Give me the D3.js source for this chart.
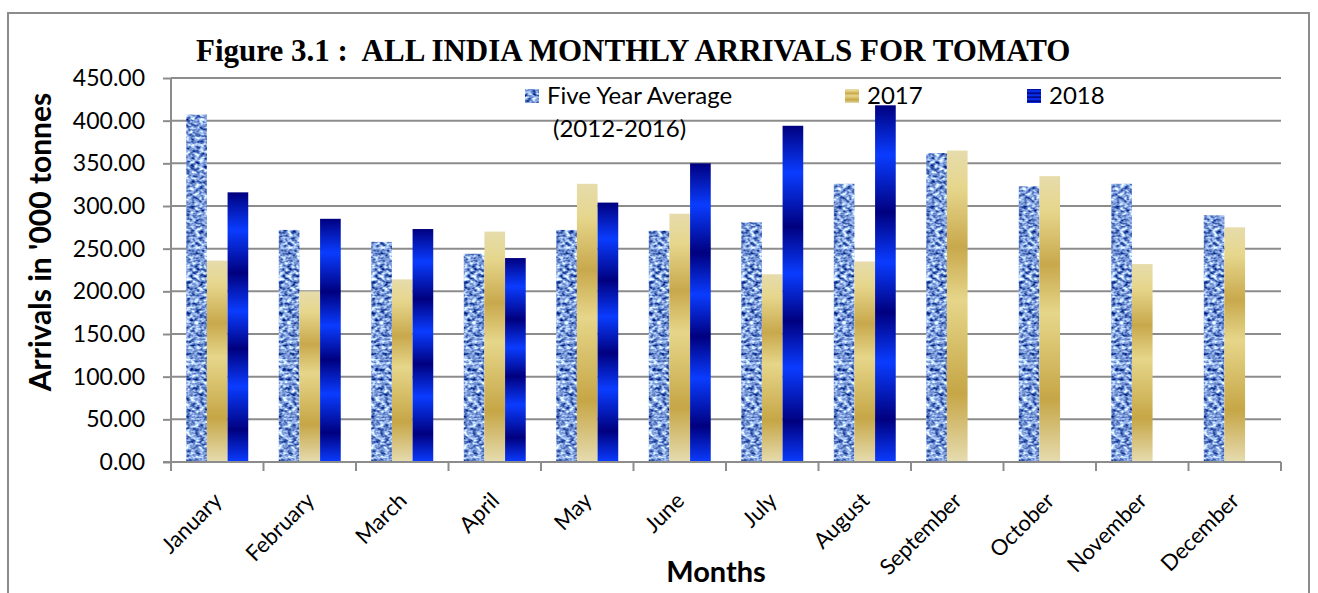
<!DOCTYPE html>
<html>
<head>
<meta charset="utf-8">
<script src="https://cdn.jsdelivr.net/npm/d3@7"></script>
<style>
  body { margin: 0; background: #fff; }
  text { font-family: Lato, "Noto Sans", sans-serif; fill: #000; }
</style>
</head>
<body>
<div id="chart"></div>
<script>
let graph_width = 1318, graph_height = 593;
let margin = {top: 78, right: 37, bottom: 131, left: 171};

// values ('000 tonnes)
let months = ["January", "February", "March", "April", "May", "June",
              "July", "August", "September", "October", "November", "December"];
let five_year_avg = [407, 272, 258, 244, 272, 271, 281, 326, 362, 323, 326, 289];
let arrivals_2017 = [236, 200, 214, 270, 326, 291, 220, 235, 365, 335, 232, 275];
let arrivals_2018 = [316, 285, 273, 239, 304, 350, 394, 418, null, null, null, null];
let y_ticks = [0, 50, 100, 150, 200, 250, 300, 350, 400, 450];
let series_names = ["five", "y2017", "y2018"];

let plot_w = graph_width - margin.left - margin.right;
let plot_h = graph_height - margin.top - margin.bottom;

let svg = d3.select("#chart")
    .append("svg")
    .attr("width", graph_width)
    .attr("height", graph_height);

let defs = svg.append("defs");

// denim-like texture for the five year average
let denim = defs.append("filter")
    .attr("id", "denim")
    .attr("color-interpolation-filters", "sRGB")
    .attr("x", 0).attr("y", 0).attr("width", 1).attr("height", 1);
denim.append("feTurbulence")
    .attr("type", "fractalNoise")
    .attr("baseFrequency", "0.22 0.32")
    .attr("numOctaves", 2)
    .attr("seed", 7)
    .attr("result", "noise");
denim.append("feColorMatrix")
    .attr("in", "noise")
    .attr("type", "matrix")
    .attr("values", "1.7 0 0 0 -0.36  1.6 0 0 0 -0.19  1.1 0 0 0 0.3  0 0 0 0 1")
    .attr("result", "col");
denim.append("feComposite")
    .attr("in", "col").attr("in2", "SourceAlpha").attr("operator", "in");

// gold gradient for 2017
let gold = defs.append("linearGradient")
    .attr("id", "gold").attr("x1", 0).attr("y1", 0).attr("x2", 0).attr("y2", 1);
[[0, "#e6dcac"], [0.12, "#e6d68c"], [0.31, "#c8a84c"], [0.48, "#e6d68a"],
 [0.78, "#c6a646"], [1, "#e6dcb0"]].forEach(function(s) {
    gold.append("stop").attr("offset", s[0]).attr("stop-color", s[1]);
});

// banded blue gradient for 2018
let blue = defs.append("linearGradient")
    .attr("id", "blue").attr("x1", 0).attr("y1", 0).attr("x2", 0).attr("y2", 1);
[[0, "#00007f"], [0.14, "#0a3cff"], [0.30, "#00007f"], [0.44, "#0a3cff"],
 [0.58, "#00007f"], [0.72, "#0a3cff"], [0.88, "#00007f"], [1, "#0a3cff"]].forEach(function(s) {
    blue.append("stop").attr("offset", s[0]).attr("stop-color", s[1]);
});

let fills = {five: "#6a8cd0", y2017: "url(#gold)", y2018: "url(#blue)"};

// outer frame
svg.append("rect")
    .attr("x", 8).attr("y", 13)
    .attr("width", 1301).attr("height", 620)
    .attr("fill", "none")
    .attr("stroke", "#8c8c8c")
    .attr("stroke-width", 2);

let g = svg.append("g")
    .attr("transform", `translate(${margin.left}, ${margin.top})`);

let x0 = d3.scaleBand()
    .domain(months)
    .range([0, plot_w])
    .paddingInner(0.33)
    .paddingOuter(0.165);

let x1 = d3.scaleBand()
    .domain(series_names)
    .range([0, x0.bandwidth()]);

let y = d3.scaleLinear()
    .domain([0, 450])
    .range([plot_h, 0]);

// gridlines
g.append("g")
    .selectAll("line")
    .data(y_ticks.slice(1))
    .enter()
    .append("line")
    .attr("x1", 0).attr("x2", plot_w)
    .attr("y1", d => y(d)).attr("y2", d => y(d))
    .attr("stroke", "#8c8c8c")
    .attr("stroke-width", 2);

// y axis
let y_axis = g.append("g")
    .call(d3.axisLeft(y).tickValues(y_ticks).tickFormat(d3.format(".2f")).tickSize(8).tickPadding(18));
y_axis.selectAll("line").attr("stroke", "#8c8c8c").attr("stroke-width", 2);
y_axis.select(".domain").attr("stroke", "#8c8c8c").attr("stroke-width", 2).attr("d", `M0,0V${plot_h}`);
y_axis.selectAll("text")
    .style("font-size", "23px")
    .style("font-family", "Lato, sans-serif")
    .attr("fill", "#000");

// bars
let rows = months.map(function(m, i) {
    return {month: m, values: [
        {key: "five", v: five_year_avg[i]},
        {key: "y2017", v: arrivals_2017[i]},
        {key: "y2018", v: arrivals_2018[i]}
    ].filter(d => d.v != null)};
});

let groups = g.selectAll(".grp")
    .data(rows)
    .enter()
    .append("g")
    .attr("class", "grp")
    .attr("transform", d => `translate(${x0(d.month)}, 0)`);

groups.selectAll("rect")
    .data(d => d.values)
    .enter()
    .append("rect")
    .attr("x", d => x1(d.key))
    .attr("y", d => y(d.v))
    .attr("width", x1.bandwidth())
    .attr("height", d => plot_h - y(d.v))
    .attr("fill", d => fills[d.key])
    .attr("filter", d => d.key == "five" ? "url(#denim)" : null);

// x axis line and ticks at category boundaries
let xa = g.append("g").attr("transform", `translate(0, ${plot_h})`);
xa.append("line")
    .attr("x1", -8).attr("x2", plot_w)
    .attr("stroke", "#8c8c8c").attr("stroke-width", 2);
xa.selectAll(".tk")
    .data(d3.range(months.length + 1))
    .enter()
    .append("line")
    .attr("class", "tk")
    .attr("x1", i => i * x0.step()).attr("x2", i => i * x0.step())
    .attr("y1", 0).attr("y2", 9)
    .attr("stroke", "#8c8c8c").attr("stroke-width", 2);

xa.selectAll(".lbl")
    .data(months)
    .enter()
    .append("text")
    .attr("class", "lbl")
    .attr("transform", d => `translate(${x0(d) + x0.bandwidth() / 2 + 6}, 40) rotate(-45)`)
    .style("text-anchor", "end")
    .style("font-size", "22px")
    .text(d => d);

// axis titles
svg.append("text")
    .attr("transform", `translate(716, 582)`)
    .style("text-anchor", "middle")
    .style("font-size", "29px")
    .style("font-weight", "bold")
    .text("Months");

svg.append("text")
    .attr("transform", `translate(51, 242) rotate(-90)`)
    .style("text-anchor", "middle")
    .style("font-size", "30px")
    .style("font-weight", "bold")
    .text("Arrivals in '000 tonnes");

// chart title
svg.append("text")
    .attr("x", 196).attr("y", 61)
    .style("font-family", "'Liberation Serif', 'DejaVu Serif', serif")
    .style("font-size", "31px")
    .style("font-weight", "bold")
    .attr("xml:space", "preserve")
    .text("Figure 3.1 :  ALL INDIA MONTHLY ARRIVALS FOR TOMATO");

// legend
let legend = [
    {key: "five", x: 525, lines: ["Five Year Average", "(2012-2016)"]},
    {key: "y2017", x: 845, lines: ["2017"]},
    {key: "y2018", x: 1027, lines: ["2018"]}
];
let lg = svg.append("g").selectAll("g")
    .data(legend)
    .enter()
    .append("g");
lg.append("rect")
    .attr("x", d => d.x).attr("y", 89)
    .attr("width", 14).attr("height", 14)
    .attr("fill", d => fills[d.key])
    .attr("filter", d => d.key == "five" ? "url(#denim)" : null);
lg.append("text")
    .attr("x", d => d.x + 22).attr("y", 104)
    .style("font-size", "24px")
    .text(d => d.lines[0]);
lg.filter(d => d.lines.length > 1)
    .append("text")
    .attr("x", d => d.x + 28).attr("y", 137)
    .style("font-size", "24px")
    .text(d => d.lines[1]);
</script>
</body>
</html>
